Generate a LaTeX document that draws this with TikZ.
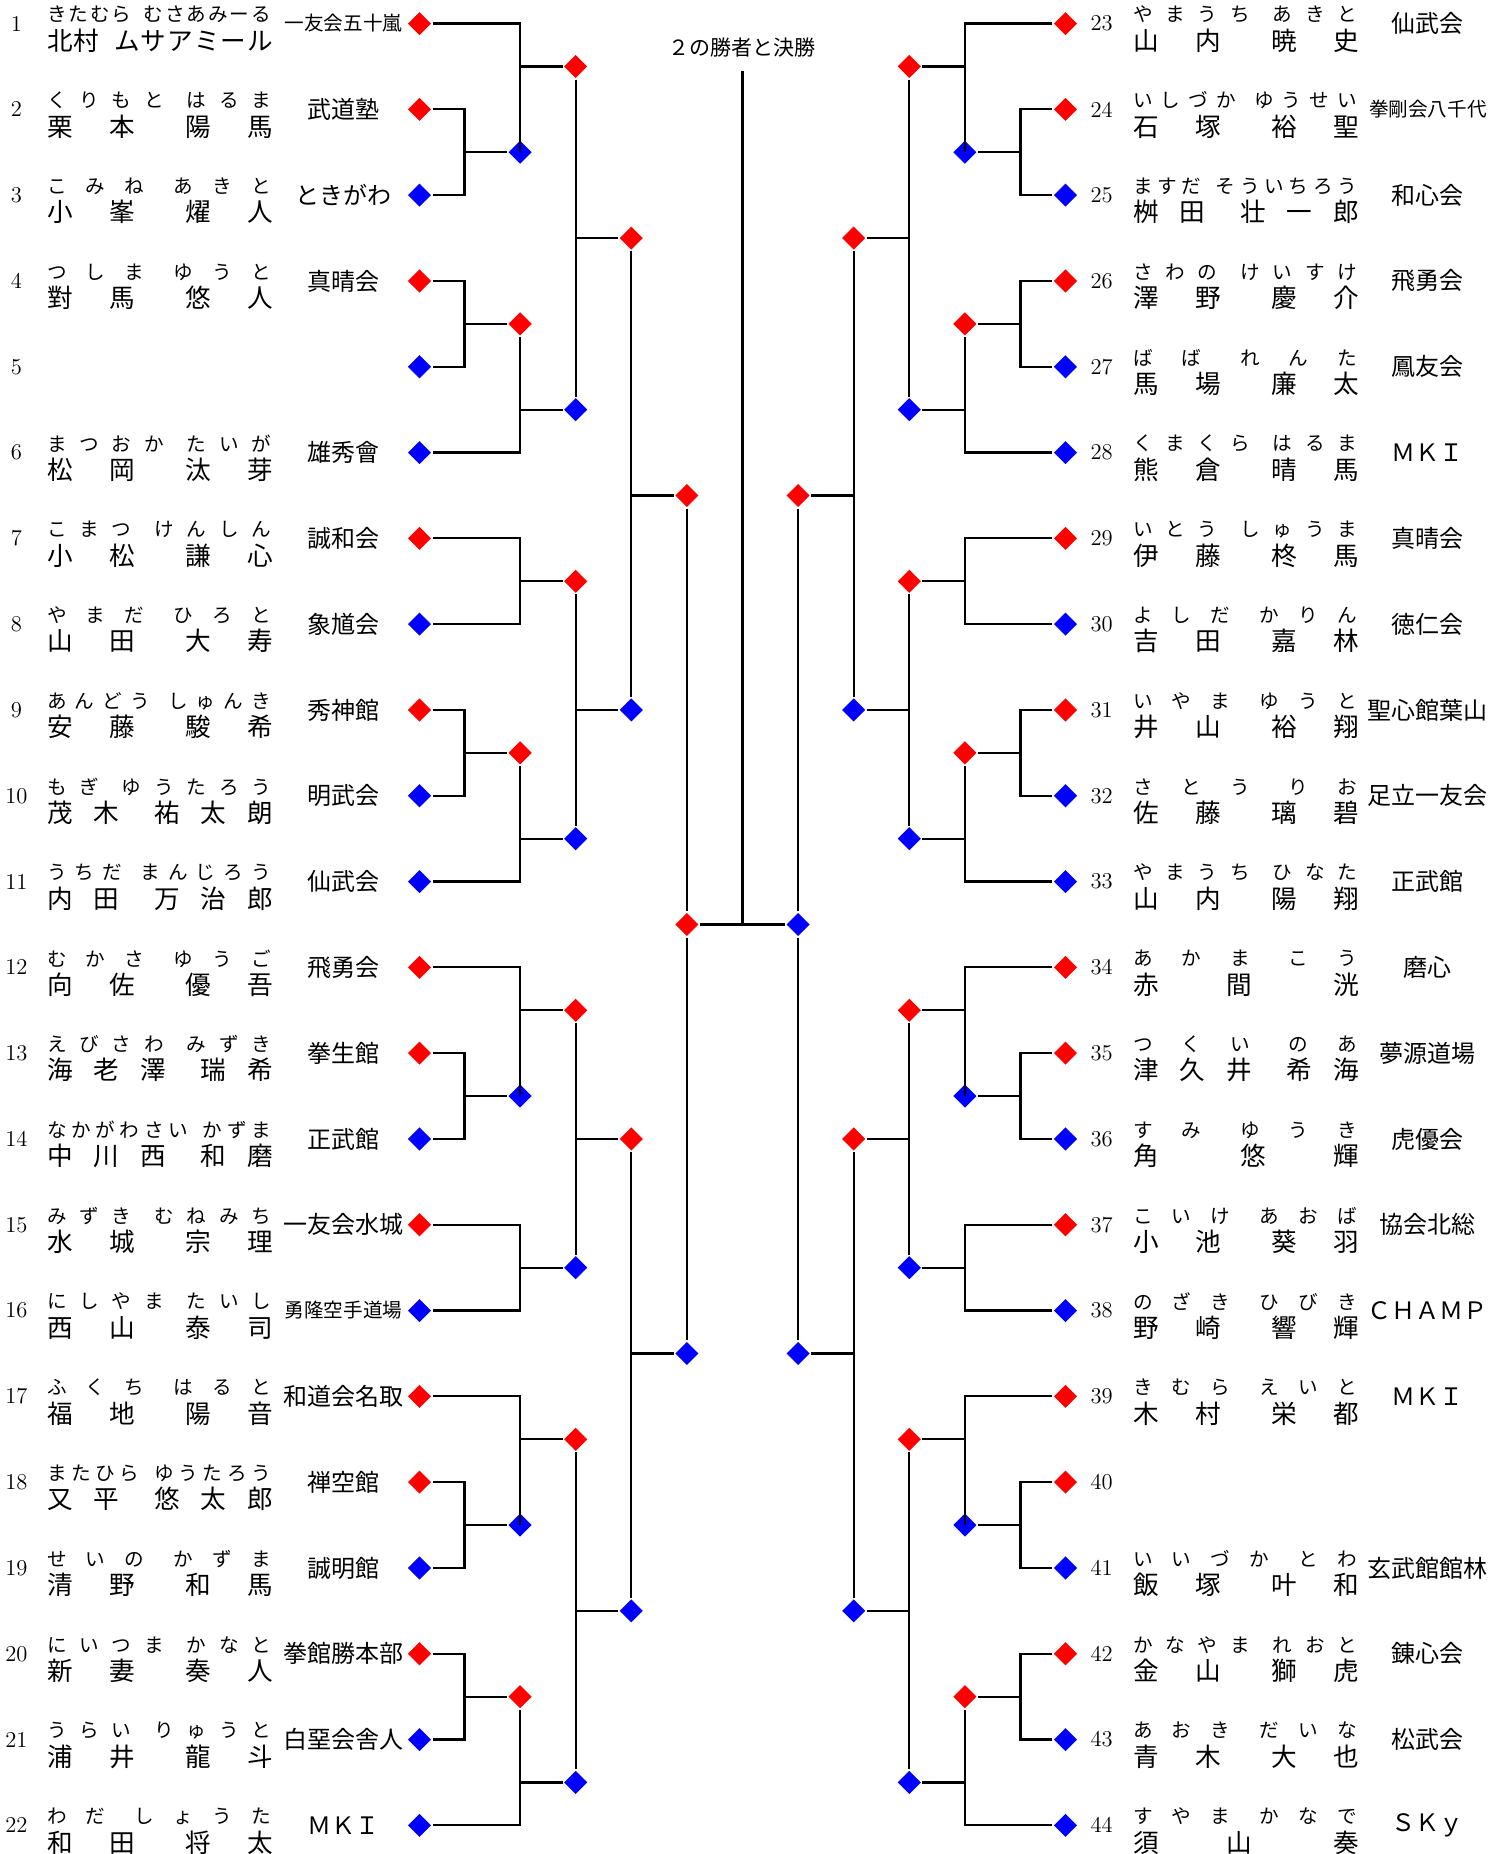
\documentclass[tikz,border=0pt]{standalone}
\usepackage{fontspec}
\usepackage{tikz}
\usetikzlibrary{shapes.geometric}
\newfontfamily\jp{Noto Sans CJK JP}
\newif\ifspfirst
\newcommand\spreadloop[1]{%
  \ifx#1\relax\else
    \ifx#1|\hspace{\spgap}\else
      \ifspfirst\spfirstfalse\else\hfill\fi#1%
    \fi
    \expandafter\spreadloop
  \fi}
\newcommand\spreadname[3]{\makebox[#1][s]{\def\spgap{#2}\spfirsttrue\expandafter\spreadloop#3\relax}}
\newcommand\dsm{\fontsize{9.8}{12}\selectfont}
\begin{document}
\begin{tikzpicture}[x=0.5pt, y=-42.9pt, line width=1.1pt,
  numtext/.style={font=\fontsize{11.3}{13}\selectfont},
  furi/.style={font=\jp\fontsize{9.8}{11}\selectfont, anchor=west, yshift=4.5pt},
  kanji/.style={font=\jp\fontsize{12.8}{15}\selectfont, anchor=west, yshift=-8.5pt},
  dojo/.style={font=\jp\fontsize{12}{14}\selectfont},
  ttlstyle/.style={font=\jp\fontsize{10.5}{12}\selectfont},
  rdia/.style={diamond, fill=red, minimum size=12pt},
  bdia/.style={diamond, fill=blue, minimum size=12pt}]
\tikzstyle{every node}+=[inner sep=0pt]
\useasboundingbox (0,0.725) rectangle (1505,22.334);

\foreach \n/\kana/\kname/\dname in {
  1/きたむら|むさあみーる/北村|ムサアミール/{\dsm 一友会五十嵐},
  2/くりもと|はるま/栗本|陽馬/武道塾,
  3/こみね|あきと/小峯|燿人/ときがわ,
  4/つしま|ゆうと/對馬|悠人/真晴会,
  6/まつおか|たいが/松岡|汰芽/雄秀會,
  7/こまつ|けんしん/小松|謙心/誠和会,
  8/やまだ|ひろと/山田|大寿/象馗会,
  9/あんどう|しゅんき/安藤|駿希/秀神館,
  10/もぎ|ゆうたろう/茂木|祐太朗/明武会,
  11/うちだ|まんじろう/内田|万治郎/仙武会,
  12/むかさ|ゆうご/向佐|優吾/飛勇会,
  13/えびさわ|みずき/海老澤|瑞希/拳生館,
  14/なかがわさい|かずま/中川西|和磨/正武館,
  15/みずき|むねみち/水城|宗理/一友会水城,
  16/にしやま|たいし/西山|泰司/{\dsm 勇隆空手道場},
  17/ふくち|はると/福地|陽音/和道会名取,
  18/またひら|ゆうたろう/又平|悠太郎/禅空館,
  19/せいの|かずま/清野|和馬/誠明館,
  20/にいつま|かなと/新妻|奏人/拳館勝本部,
  21/うらい|りゅうと/浦井|龍斗/白堊会舎人,
  22/わだ|しょうた/和田|将太/ＭＫＩ}{
  \node[numtext] (n\n) at (16.5,\n) {\n};
  \node[furi] (f\n) at (46,\n) {\spreadname{112pt}{5pt}{\kana}};
  \node[kanji] (k\n) at (46,\n) {\spreadname{113pt}{7pt}{\kname}};
  \node[dojo] (c\n) at (343.5,\n) {\dname};
}
\node[numtext] (n5) at (16.5,5) {5};

\foreach \n/\kana/\kname/\dname [evaluate=\n as \rw using int(\n-22)] in {
  23/やまうち|あきと/山内|暁史/仙武会,
  24/いしづか|ゆうせい/石塚|裕聖/{\dsm 拳剛会八千代},
  25/ますだ|そういちろう/桝田|壮一郎/和心会,
  26/さわの|けいすけ/澤野|慶介/飛勇会,
  27/ばば|れんた/馬場|廉太/鳳友会,
  28/くまくら|はるま/熊倉|晴馬/ＭＫＩ,
  29/いとう|しゅうま/伊藤|柊馬/真晴会,
  30/よしだ|かりん/吉田|嘉林/徳仁会,
  31/いやま|ゆうと/井山|裕翔/聖心館葉山,
  32/さとう|りお/佐藤|璃碧/足立一友会,
  33/やまうち|ひなた/山内|陽翔/正武館,
  34/あかま|こう/赤間|洸/磨心,
  35/つくい|のあ/津久井|希海/夢源道場,
  36/すみ|ゆうき/角|悠輝/虎優会,
  37/こいけ|あおば/小池|葵羽/協会北総,
  38/のざき|ひびき/野崎|響輝/ＣＨＡＭＰ,
  39/きむら|えいと/木村|栄都/ＭＫＩ,
  41/いいづか|とわ/飯塚|叶和/玄武館館林,
  42/かなやま|れおと/金山|獅虎/錬心会,
  43/あおき|だいな/青木|大也/松武会,
  44/すやま|かなで/須山|奏/ＳＫｙ}{
  \node[numtext] (n\n) at (1101.7,\rw) {\n};
  \node[furi] (f\n) at (1132,\rw) {\spreadname{112pt}{5pt}{\kana}};
  \node[kanji] (k\n) at (1132,\rw) {\spreadname{113pt}{7pt}{\kname}};
  \node[dojo] (c\n) at (1428,\rw) {\dname};
}
\node[numtext] (n40) at (1101.7,18) {40};

\foreach \side/\sgn in {L/1,R/-1}{
\begin{scope}[shift={(742.5,0)}, xscale=\sgn]
  \foreach \rw/\c in {1/rdia,2/rdia,3/bdia,4/rdia,5/bdia,6/bdia,7/rdia,8/bdia,9/rdia,10/bdia,11/bdia,
    12/rdia,13/rdia,14/bdia,15/rdia,16/bdia,17/rdia,18/rdia,19/bdia,20/rdia,21/bdia,22/bdia}
    \node[\c] (\side e\rw) at (-323,\rw) {};
  \node[bdia] (\side w2t3) at (-222.4,2.5) {};
  \node[rdia] (\side w1t3) at (-166.8,1.5) {};
  \node[rdia] (\side w4t5) at (-222.4,4.5) {};
  \node[bdia] (\side w4t6) at (-166.8,5.5) {};
  \node[rdia] (\side w1t6) at (-111.2,3.5) {};
  \node[rdia] (\side w7t8) at (-166.8,7.5) {};
  \node[rdia] (\side w9t10) at (-222.4,9.5) {};
  \node[bdia] (\side w9t11) at (-166.8,10.5) {};
  \node[bdia] (\side w7t11) at (-111.2,9) {};
  \node[rdia] (\side w1t11) at (-55.6,6.5) {};
  \node[bdia] (\side w13t14) at (-222.4,13.5) {};
  \node[rdia] (\side w12t14) at (-166.8,12.5) {};
  \node[bdia] (\side w15t16) at (-166.8,15.5) {};
  \node[rdia] (\side w12t16) at (-111.2,14) {};
  \node[bdia] (\side w18t19) at (-222.4,18.5) {};
  \node[rdia] (\side w17t19) at (-166.8,17.5) {};
  \node[rdia] (\side w20t21) at (-222.4,20.5) {};
  \node[bdia] (\side w20t22) at (-166.8,21.5) {};
  \node[bdia] (\side w17t22) at (-111.2,19.5) {};
  \node[bdia] (\side w12t22) at (-55.6,16.5) {};
  \coordinate (\side j2t3) at (-278,2.5);
  \coordinate (\side j1t3) at (-222.4,1.5);
  \coordinate (\side j4t5) at (-278,4.5);
  \coordinate (\side j4t6) at (-222.4,5.5);
  \coordinate (\side j1t6) at (-166.8,3.5);
  \coordinate (\side j7t8) at (-222.4,7.5);
  \coordinate (\side j9t10) at (-278,9.5);
  \coordinate (\side j9t11) at (-222.4,10.5);
  \coordinate (\side j7t11) at (-166.8,9);
  \coordinate (\side j1t11) at (-111.2,6.5);
  \coordinate (\side j13t14) at (-278,13.5);
  \coordinate (\side j12t14) at (-222.4,12.5);
  \coordinate (\side j15t16) at (-222.4,15.5);
  \coordinate (\side j12t16) at (-166.8,14);
  \coordinate (\side j18t19) at (-278,18.5);
  \coordinate (\side j17t19) at (-222.4,17.5);
  \coordinate (\side j20t21) at (-278,20.5);
  \coordinate (\side j20t22) at (-222.4,21.5);
  \coordinate (\side j17t22) at (-166.8,19.5);
  \coordinate (\side j12t22) at (-111.2,16.5);
  \draw (\side e2) -| (\side j2t3) |- (\side e3) (\side j2t3) -- (\side w2t3);
  \draw (\side e1) -| (\side j1t3) |- (\side w2t3) (\side j1t3) -- (\side w1t3);
  \draw (\side e4) -| (\side j4t5) |- (\side e5) (\side j4t5) -- (\side w4t5);
  \draw (\side w4t5) -- (\side j4t6) |- (\side e6) (\side j4t6) -- (\side w4t6);
  \draw (\side w1t3) -- (\side j1t6) -- (\side w4t6) (\side j1t6) -- (\side w1t6);
  \draw (\side e7) -| (\side j7t8) |- (\side e8) (\side j7t8) -- (\side w7t8);
  \draw (\side e9) -| (\side j9t10) |- (\side e10) (\side j9t10) -- (\side w9t10);
  \draw (\side w9t10) -- (\side j9t11) |- (\side e11) (\side j9t11) -- (\side w9t11);
  \draw (\side w7t8) -- (\side j7t11) -- (\side w9t11) (\side j7t11) -- (\side w7t11);
  \draw (\side w1t6) -- (\side j1t11) -- (\side w7t11) (\side j1t11) -- (\side w1t11);
  \draw (\side e13) -| (\side j13t14) |- (\side e14) (\side j13t14) -- (\side w13t14);
  \draw (\side e12) -| (\side j12t14) |- (\side w13t14) (\side j12t14) -- (\side w12t14);
  \draw (\side e15) -| (\side j15t16) |- (\side e16) (\side j15t16) -- (\side w15t16);
  \draw (\side w12t14) -- (\side j12t16) -- (\side w15t16) (\side j12t16) -- (\side w12t16);
  \draw (\side e18) -| (\side j18t19) |- (\side e19) (\side j18t19) -- (\side w18t19);
  \draw (\side e17) -| (\side j17t19) |- (\side w18t19) (\side j17t19) -- (\side w17t19);
  \draw (\side e20) -| (\side j20t21) |- (\side e21) (\side j20t21) -- (\side w20t21);
  \draw (\side w20t21) -- (\side j20t22) |- (\side e22) (\side j20t22) -- (\side w20t22);
  \draw (\side w17t19) -- (\side j17t22) -- (\side w20t22) (\side j17t22) -- (\side w17t22);
  \draw (\side w12t16) -- (\side j12t22) -- (\side w17t22) (\side j12t22) -- (\side w12t22);
\end{scope}
}

\node[rdia] (Lfin) at (686.9,11.5) {};
\node[bdia] (Rfin) at (798.1,11.5) {};
\coordinate (mid) at (742.5,11.5);
\coordinate (ctop) at (742.5,1.552);
\draw (Lw1t11) -- (Lfin) -- (Lw12t22);
\draw (Rw1t11) -- (Rfin) -- (Rw12t22);
\draw (Lfin) -- (Rfin);
\draw (mid) -- (ctop);
\node[ttlstyle] (ttl) at (742.5,1.276) {２の勝者と決勝};
\end{tikzpicture}
\end{document}
